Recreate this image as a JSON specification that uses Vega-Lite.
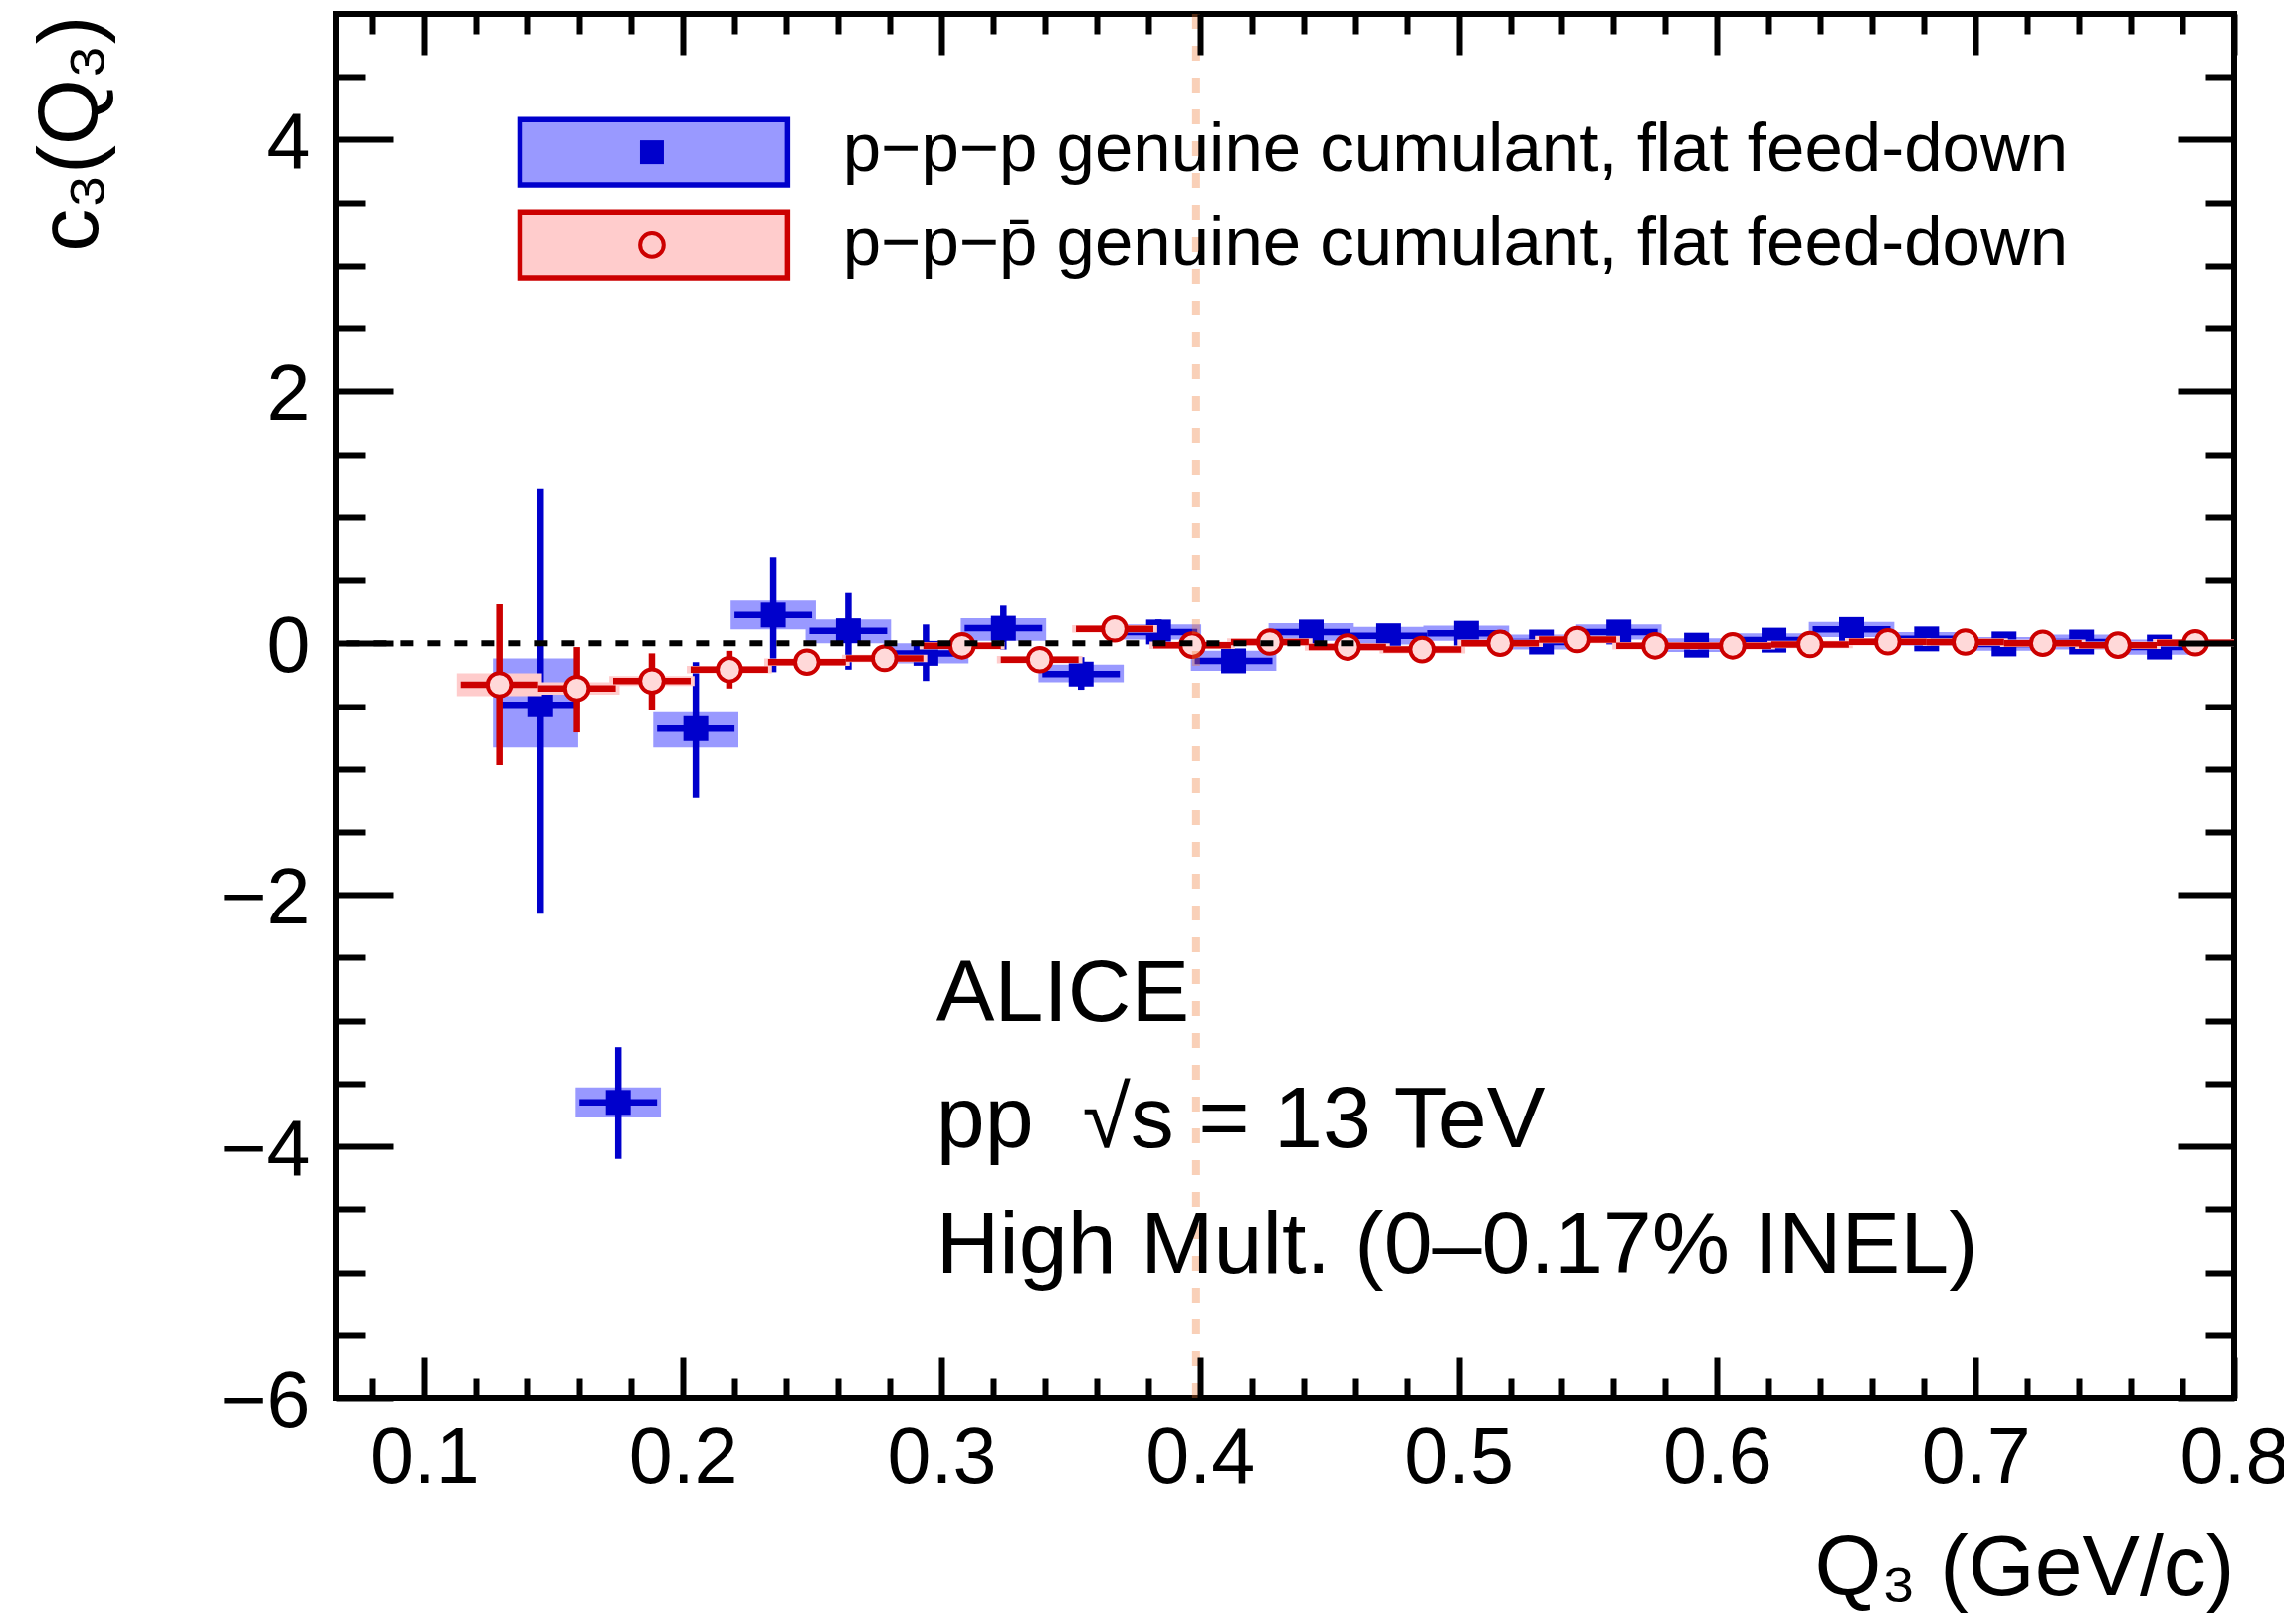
{
  "$schema": "https://vega.github.io/schema/vega-lite/v6.json",
  "width": 1907,
  "height": 1391,
  "autosize": {"type": "none"},
  "padding": {"left": 338, "top": 14, "right": 50, "bottom": 227},
  "background": "white",
  "config": {
    "view": {"stroke": "black", "strokeWidth": 6},
    "axis": {"grid": false, "domain": false, "labelFont": "Liberation Sans", "titleFont": "Liberation Sans", "labelColor": "black", "titleColor": "black", "tickColor": "black", "titleFontWeight": "normal"},
    "text": {"font": "Liberation Sans"}
  },
  "resolve": {"axis": {"x": "independent", "y": "independent"}},
  "datasets": {
    "ppp": [
      {"x": 0.145, "y": -0.49, "slo": -2.15, "shi": 1.23, "ylo": -0.83, "yhi": -0.12, "xlo": 0.130, "xhi": 0.160, "bxlo": 0.1265, "bxhi": 0.1595},
      {"x": 0.175, "y": -3.65, "slo": -4.10, "shi": -3.21, "ylo": -3.77, "yhi": -3.53, "xlo": 0.160, "xhi": 0.190, "bxlo": 0.1585, "bxhi": 0.1915},
      {"x": 0.205, "y": -0.68, "slo": -1.23, "shi": -0.15, "ylo": -0.83, "yhi": -0.55, "xlo": 0.190, "xhi": 0.220, "bxlo": 0.1885, "bxhi": 0.2215},
      {"x": 0.235, "y": 0.225, "slo": -0.23, "shi": 0.68, "ylo": 0.11, "yhi": 0.34, "xlo": 0.220, "xhi": 0.250, "bxlo": 0.2185, "bxhi": 0.2515},
      {"x": 0.264, "y": 0.10, "slo": -0.21, "shi": 0.40, "ylo": 0.0, "yhi": 0.19, "xlo": 0.249, "xhi": 0.279, "bxlo": 0.2475, "bxhi": 0.2805},
      {"x": 0.294, "y": -0.08, "slo": -0.30, "shi": 0.15, "ylo": -0.16, "yhi": 0.0, "xlo": 0.279, "xhi": 0.309, "bxlo": 0.2775, "bxhi": 0.3105},
      {"x": 0.324, "y": 0.12, "slo": -0.05, "shi": 0.30, "ylo": 0.02, "yhi": 0.20, "xlo": 0.309, "xhi": 0.339, "bxlo": 0.3075, "bxhi": 0.3405},
      {"x": 0.354, "y": -0.245, "slo": -0.37, "shi": -0.11, "ylo": -0.31, "yhi": -0.17, "xlo": 0.339, "xhi": 0.369, "bxlo": 0.3375, "bxhi": 0.3705},
      {"x": 0.384, "y": 0.09, "slo": -0.01, "shi": 0.19, "ylo": 0.03, "yhi": 0.15, "xlo": 0.369, "xhi": 0.399, "bxlo": 0.3675, "bxhi": 0.4005},
      {"x": 0.413, "y": -0.14, "slo": -0.22, "shi": -0.06, "ylo": -0.22, "yhi": -0.06, "xlo": 0.398, "xhi": 0.428, "bxlo": 0.3965, "bxhi": 0.4295},
      {"x": 0.443, "y": 0.09, "slo": 0.02, "shi": 0.16, "ylo": 0.02, "yhi": 0.16, "xlo": 0.428, "xhi": 0.458, "bxlo": 0.4265, "bxhi": 0.4595},
      {"x": 0.473, "y": 0.06, "slo": 0.0, "shi": 0.12, "ylo": -0.01, "yhi": 0.13, "xlo": 0.458, "xhi": 0.488, "bxlo": 0.4565, "bxhi": 0.4895},
      {"x": 0.503, "y": 0.08, "slo": 0.02, "shi": 0.14, "ylo": 0.02, "yhi": 0.14, "xlo": 0.488, "xhi": 0.518, "bxlo": 0.4865, "bxhi": 0.5195},
      {"x": 0.532, "y": 0.01, "slo": -0.05, "shi": 0.07, "ylo": -0.05, "yhi": 0.07, "xlo": 0.517, "xhi": 0.547, "bxlo": 0.5155, "bxhi": 0.5485},
      {"x": 0.562, "y": 0.09, "slo": 0.03, "shi": 0.15, "ylo": 0.03, "yhi": 0.15, "xlo": 0.547, "xhi": 0.577, "bxlo": 0.5455, "bxhi": 0.5785},
      {"x": 0.592, "y": -0.015, "slo": -0.07, "shi": 0.04, "ylo": -0.07, "yhi": 0.04, "xlo": 0.577, "xhi": 0.607, "bxlo": 0.5755, "bxhi": 0.6085},
      {"x": 0.622, "y": 0.025, "slo": -0.03, "shi": 0.08, "ylo": -0.03, "yhi": 0.08, "xlo": 0.607, "xhi": 0.637, "bxlo": 0.6055, "bxhi": 0.6385},
      {"x": 0.652, "y": 0.11, "slo": 0.05, "shi": 0.17, "ylo": 0.05, "yhi": 0.17, "xlo": 0.637, "xhi": 0.667, "bxlo": 0.6355, "bxhi": 0.6685},
      {"x": 0.681, "y": 0.035, "slo": -0.02, "shi": 0.09, "ylo": -0.02, "yhi": 0.09, "xlo": 0.666, "xhi": 0.696, "bxlo": 0.6645, "bxhi": 0.6975},
      {"x": 0.711, "y": -0.005, "slo": -0.06, "shi": 0.05, "ylo": -0.06, "yhi": 0.05, "xlo": 0.696, "xhi": 0.726, "bxlo": 0.6945, "bxhi": 0.7275},
      {"x": 0.741, "y": 0.01, "slo": -0.05, "shi": 0.07, "ylo": -0.05, "yhi": 0.07, "xlo": 0.726, "xhi": 0.756, "bxlo": 0.7245, "bxhi": 0.7575},
      {"x": 0.771, "y": -0.03, "slo": -0.09, "shi": 0.03, "ylo": -0.09, "yhi": 0.03, "xlo": 0.756, "xhi": 0.786, "bxlo": 0.7545, "bxhi": 0.7875}
    ],
    "pppbar": [
      {"x": 0.129, "y": -0.33, "slo": -0.97, "shi": 0.31, "ylo": -0.42, "yhi": -0.24, "xlo": 0.114, "xhi": 0.144, "bxlo": 0.1125, "bxhi": 0.1455},
      {"x": 0.159, "y": -0.36, "slo": -0.71, "shi": -0.03, "ylo": -0.41, "yhi": -0.31, "xlo": 0.144, "xhi": 0.174, "bxlo": 0.1425, "bxhi": 0.1755},
      {"x": 0.188, "y": -0.30, "slo": -0.53, "shi": -0.08, "ylo": -0.34, "yhi": -0.26, "xlo": 0.173, "xhi": 0.203, "bxlo": 0.1715, "bxhi": 0.2045},
      {"x": 0.218, "y": -0.21, "slo": -0.36, "shi": -0.06, "ylo": -0.24, "yhi": -0.18, "xlo": 0.203, "xhi": 0.233, "bxlo": 0.2015, "bxhi": 0.2345},
      {"x": 0.248, "y": -0.15, "slo": -0.23, "shi": -0.07, "ylo": -0.18, "yhi": -0.12, "xlo": 0.233, "xhi": 0.263, "bxlo": 0.2315, "bxhi": 0.2645},
      {"x": 0.278, "y": -0.12, "slo": -0.18, "shi": -0.06, "ylo": -0.15, "yhi": -0.09, "xlo": 0.263, "xhi": 0.293, "bxlo": 0.2615, "bxhi": 0.2945},
      {"x": 0.308, "y": -0.02, "slo": -0.07, "shi": 0.03, "ylo": -0.05, "yhi": 0.01, "xlo": 0.293, "xhi": 0.323, "bxlo": 0.2915, "bxhi": 0.3245},
      {"x": 0.338, "y": -0.13, "slo": -0.20, "shi": -0.06, "ylo": -0.16, "yhi": -0.10, "xlo": 0.323, "xhi": 0.353, "bxlo": 0.3215, "bxhi": 0.3545},
      {"x": 0.367, "y": 0.115, "slo": 0.05, "shi": 0.18, "ylo": 0.085, "yhi": 0.145, "xlo": 0.352, "xhi": 0.382, "bxlo": 0.3505, "bxhi": 0.3835},
      {"x": 0.397, "y": -0.015, "slo": -0.06, "shi": 0.03, "ylo": -0.045, "yhi": 0.015, "xlo": 0.382, "xhi": 0.412, "bxlo": 0.3805, "bxhi": 0.4135},
      {"x": 0.427, "y": 0.01, "slo": -0.03, "shi": 0.05, "ylo": -0.02, "yhi": 0.04, "xlo": 0.412, "xhi": 0.442, "bxlo": 0.4105, "bxhi": 0.4435},
      {"x": 0.457, "y": -0.03, "slo": -0.07, "shi": 0.01, "ylo": -0.06, "yhi": 0.0, "xlo": 0.442, "xhi": 0.472, "bxlo": 0.4405, "bxhi": 0.4735},
      {"x": 0.486, "y": -0.05, "slo": -0.09, "shi": -0.01, "ylo": -0.08, "yhi": -0.02, "xlo": 0.471, "xhi": 0.501, "bxlo": 0.4695, "bxhi": 0.5025},
      {"x": 0.516, "y": 0.0, "slo": -0.04, "shi": 0.04, "ylo": -0.03, "yhi": 0.03, "xlo": 0.501, "xhi": 0.531, "bxlo": 0.4995, "bxhi": 0.5325},
      {"x": 0.546, "y": 0.03, "slo": -0.01, "shi": 0.07, "ylo": 0.0, "yhi": 0.06, "xlo": 0.531, "xhi": 0.561, "bxlo": 0.5295, "bxhi": 0.5625},
      {"x": 0.576, "y": -0.02, "slo": -0.06, "shi": 0.02, "ylo": -0.05, "yhi": 0.01, "xlo": 0.561, "xhi": 0.591, "bxlo": 0.5595, "bxhi": 0.5925},
      {"x": 0.606, "y": -0.02, "slo": -0.06, "shi": 0.02, "ylo": -0.05, "yhi": 0.01, "xlo": 0.591, "xhi": 0.621, "bxlo": 0.5895, "bxhi": 0.6225},
      {"x": 0.636, "y": -0.01, "slo": -0.05, "shi": 0.03, "ylo": -0.04, "yhi": 0.02, "xlo": 0.621, "xhi": 0.651, "bxlo": 0.6195, "bxhi": 0.6525},
      {"x": 0.666, "y": 0.012, "slo": -0.03, "shi": 0.05, "ylo": -0.018, "yhi": 0.042, "xlo": 0.651, "xhi": 0.681, "bxlo": 0.6495, "bxhi": 0.6825},
      {"x": 0.696, "y": 0.01, "slo": -0.03, "shi": 0.05, "ylo": -0.02, "yhi": 0.04, "xlo": 0.681, "xhi": 0.711, "bxlo": 0.6795, "bxhi": 0.7125},
      {"x": 0.726, "y": 0.0, "slo": -0.04, "shi": 0.04, "ylo": -0.03, "yhi": 0.03, "xlo": 0.711, "xhi": 0.741, "bxlo": 0.7095, "bxhi": 0.7425},
      {"x": 0.755, "y": -0.015, "slo": -0.055, "shi": 0.025, "ylo": -0.045, "yhi": 0.015, "xlo": 0.740, "xhi": 0.770, "bxlo": 0.7385, "bxhi": 0.7715},
      {"x": 0.785, "y": 0.004, "slo": -0.036, "shi": 0.044, "ylo": -0.026, "yhi": 0.034, "xlo": 0.770, "xhi": 0.800, "bxlo": 0.7685, "bxhi": 0.8015}
    ]
  },
  "layer": [
    {
      "data": {"name": "ppp"},
      "mark": {"type": "rect", "color": "#9999ff", "clip": true},
      "encoding": {
        "x": {"field": "bxlo", "type": "quantitative", "scale": {"domain": [0.066, 0.8], "nice": false, "zero": false},
          "axis": {"orient": "bottom", "values": [0.1, 0.2, 0.3, 0.4, 0.5, 0.6, 0.7, 0.8], "format": ".1f", "ticks": false, "labels": true, "labelFontSize": 79, "labelPadding": 22, "labelFlush": false, "labelOverlap": false, "labelBound": false,
            "title": "Q₃ (GeV/c)", "titleFontSize": 86, "titleAlign": "right", "titleAnchor": "end", "titleBaseline": "alphabetic", "titleX": 1907, "titleY": 197}},
        "x2": {"field": "bxhi"},
        "y": {"field": "ylo", "type": "quantitative", "scale": {"domain": [-6, 5], "nice": false, "zero": false},
          "axis": {"orient": "left", "values": [-6, -4, -2, 0, 2, 4], "format": "d", "ticks": false, "labelFontSize": 79, "labelPadding": 27, "labelOffset": 4, "labelOverlap": false, "labelBound": false,
            "title": "c₃(Q₃)", "titleFontSize": 86, "titleAngle": 270, "titleAlign": "right", "titleBaseline": "alphabetic", "titleX": -241, "titleY": 1}},
        "y2": {"field": "yhi"}
      }
    },
    {
      "data": {"name": "ppp"},
      "mark": {"type": "rule", "color": "#0000cc", "strokeWidth": 6.5, "clip": true},
      "encoding": {
        "x": {"field": "xlo", "type": "quantitative", "axis": {"orient": "bottom", "values": [0.1, 0.2, 0.3, 0.4, 0.5, 0.6, 0.7, 0.8], "labels": false, "ticks": true, "tickSize": -41, "tickWidth": 6, "title": null, "zindex": 2}},
        "x2": {"field": "xhi"},
        "y": {"field": "y", "type": "quantitative", "axis": {"orient": "left", "values": [-6, -4, -2, 0, 2, 4], "labels": false, "ticks": true, "tickSize": -57, "tickWidth": 6, "title": null, "zindex": 2}}
      }
    },
    {
      "data": {"name": "ppp"},
      "mark": {"type": "rule", "color": "#0000cc", "strokeWidth": 6.5, "clip": true},
      "encoding": {
        "x": {"field": "x", "type": "quantitative", "axis": {"orient": "bottom", "values": [0.08, 0.12, 0.14, 0.16, 0.18, 0.22, 0.24, 0.26, 0.28, 0.32, 0.34, 0.36, 0.38, 0.42, 0.44, 0.46, 0.48, 0.52, 0.54, 0.56, 0.58, 0.62, 0.64, 0.66, 0.68, 0.72, 0.74, 0.76, 0.78], "labels": false, "ticks": true, "tickSize": -20, "tickWidth": 6, "title": null, "zindex": 2}},
        "y": {"field": "slo", "type": "quantitative", "axis": {"orient": "left", "values": [-5.5, -5, -4.5, -3.5, -3, -2.5, -1.5, -1, -0.5, 0.5, 1, 1.5, 2.5, 3, 3.5, 4.5], "labels": false, "ticks": true, "tickSize": -29, "tickWidth": 6, "title": null, "zindex": 2}},
        "y2": {"field": "shi"}
      }
    },
    {
      "data": {"name": "ppp"},
      "mark": {"type": "point", "shape": "square", "filled": true, "color": "#0000cc", "size": 625, "opacity": 1, "clip": true},
      "encoding": {
        "x": {"field": "x", "type": "quantitative", "axis": {"orient": "top", "values": [0.1, 0.2, 0.3, 0.4, 0.5, 0.6, 0.7, 0.8], "labels": false, "ticks": true, "tickSize": -41, "tickWidth": 6, "title": null, "zindex": 2}},
        "y": {"field": "y", "type": "quantitative", "axis": {"orient": "right", "values": [-6, -4, -2, 0, 2, 4], "labels": false, "ticks": true, "tickSize": -57, "tickWidth": 6, "title": null, "zindex": 2}}
      }
    },
    {
      "data": {"name": "pppbar"},
      "mark": {"type": "rect", "color": "#ffcccc", "clip": true},
      "encoding": {
        "x": {"field": "bxlo", "type": "quantitative", "axis": {"orient": "top", "values": [0.08, 0.12, 0.14, 0.16, 0.18, 0.22, 0.24, 0.26, 0.28, 0.32, 0.34, 0.36, 0.38, 0.42, 0.44, 0.46, 0.48, 0.52, 0.54, 0.56, 0.58, 0.62, 0.64, 0.66, 0.68, 0.72, 0.74, 0.76, 0.78], "labels": false, "ticks": true, "tickSize": -20, "tickWidth": 6, "title": null, "zindex": 2}},
        "x2": {"field": "bxhi"},
        "y": {"field": "ylo", "type": "quantitative", "axis": {"orient": "right", "values": [-5.5, -5, -4.5, -3.5, -3, -2.5, -1.5, -1, -0.5, 0.5, 1, 1.5, 2.5, 3, 3.5, 4.5], "labels": false, "ticks": true, "tickSize": -29, "tickWidth": 6, "title": null, "zindex": 2}},
        "y2": {"field": "yhi"}
      }
    },
    {
      "data": {"name": "pppbar"},
      "mark": {"type": "rule", "color": "#cc0000", "strokeWidth": 6.5, "clip": true},
      "encoding": {
        "x": {"field": "xlo", "type": "quantitative", "axis": null},
        "x2": {"field": "xhi"},
        "y": {"field": "y", "type": "quantitative", "axis": null}
      }
    },
    {
      "data": {"name": "pppbar"},
      "mark": {"type": "rule", "color": "#cc0000", "strokeWidth": 6.5, "clip": true},
      "encoding": {
        "x": {"field": "x", "type": "quantitative", "axis": null},
        "y": {"field": "slo", "type": "quantitative", "axis": null},
        "y2": {"field": "shi"}
      }
    },
    {
      "data": {"name": "pppbar"},
      "mark": {"type": "point", "shape": "circle", "filled": false, "fill": "#ffd9d9", "fillOpacity": 1, "stroke": "#cc0000", "strokeWidth": 4, "size": 560, "opacity": 1, "clip": true},
      "encoding": {
        "x": {"field": "x", "type": "quantitative", "axis": null},
        "y": {"field": "y", "type": "quantitative", "axis": null}
      }
    },
    {
      "data": {"values": [{}]},
      "mark": {"type": "rule", "color": "black", "strokeWidth": 6, "strokeDash": [13, 14]},
      "encoding": {
        "x": {"datum": 0.07, "axis": null},
        "x2": {"datum": 0.46},
        "y": {"datum": 0, "axis": null}
      }
    },
    {
      "data": {"values": [{}]},
      "mark": {"type": "rule", "color": "#ee7733", "opacity": 0.35, "strokeWidth": 8, "strokeDash": [15, 17]},
      "encoding": {
        "x": {"datum": 0.3985, "axis": null}
      }
    },
    {
      "data": {"values": [{}]},
      "mark": {"type": "text", "text": "ALICE", "fontSize": 88, "align": "left", "baseline": "alphabetic", "color": "black"},
      "encoding": {"x": {"datum": 0.298, "axis": null}, "y": {"datum": -3.0, "axis": null}}
    },
    {
      "data": {"values": [{}]},
      "mark": {"type": "text", "text": "pp\u00a0 √s = 13 TeV", "fontSize": 88, "align": "left", "baseline": "alphabetic", "color": "black"},
      "encoding": {"x": {"datum": 0.298, "axis": null}, "y": {"datum": -4.01, "axis": null}}
    },
    {
      "data": {"values": [{}]},
      "mark": {"type": "text", "text": "High Mult. (0–0.17% INEL)", "fontSize": 88, "align": "left", "baseline": "alphabetic", "color": "black"},
      "encoding": {"x": {"datum": 0.298, "axis": null}, "y": {"datum": -5.0, "axis": null}}
    },
    {
      "data": {"values": [{}]},
      "mark": {"type": "rect", "fill": "#9999ff", "stroke": "#0000cc", "strokeWidth": 5.5},
      "encoding": {"x": {"datum": 0.137, "axis": null}, "x2": {"datum": 0.2405}, "y": {"datum": 4.16, "axis": null}, "y2": {"datum": 3.64}}
    },
    {
      "data": {"values": [{}]},
      "mark": {"type": "rect", "fill": "#ffcccc", "stroke": "#cc0000", "strokeWidth": 5.5},
      "encoding": {"x": {"datum": 0.137, "axis": null}, "x2": {"datum": 0.2405}, "y": {"datum": 3.425, "axis": null}, "y2": {"datum": 2.905}}
    },
    {
      "data": {"values": [{}]},
      "mark": {"type": "point", "shape": "square", "filled": true, "color": "#0000cc", "size": 576, "opacity": 1},
      "encoding": {"x": {"datum": 0.188, "axis": null}, "y": {"datum": 3.90, "axis": null}}
    },
    {
      "data": {"values": [{}]},
      "mark": {"type": "point", "shape": "circle", "filled": false, "stroke": "#cc0000", "strokeWidth": 4, "size": 560, "opacity": 1},
      "encoding": {"x": {"datum": 0.188, "axis": null}, "y": {"datum": 3.166, "axis": null}}
    },
    {
      "data": {"values": [{}]},
      "mark": {"type": "text", "text": "p−p−p genuine cumulant, flat feed-down", "fontSize": 69, "align": "left", "baseline": "alphabetic", "color": "black"},
      "encoding": {"x": {"datum": 0.2618, "axis": null}, "y": {"datum": 3.75, "axis": null}}
    },
    {
      "data": {"values": [{}]},
      "mark": {"type": "text", "text": "p−p−p̄ genuine cumulant, flat feed-down", "fontSize": 69, "align": "left", "baseline": "alphabetic", "color": "black"},
      "encoding": {"x": {"datum": 0.2618, "axis": null}, "y": {"datum": 3.01, "axis": null}}
    }
  ]
}
